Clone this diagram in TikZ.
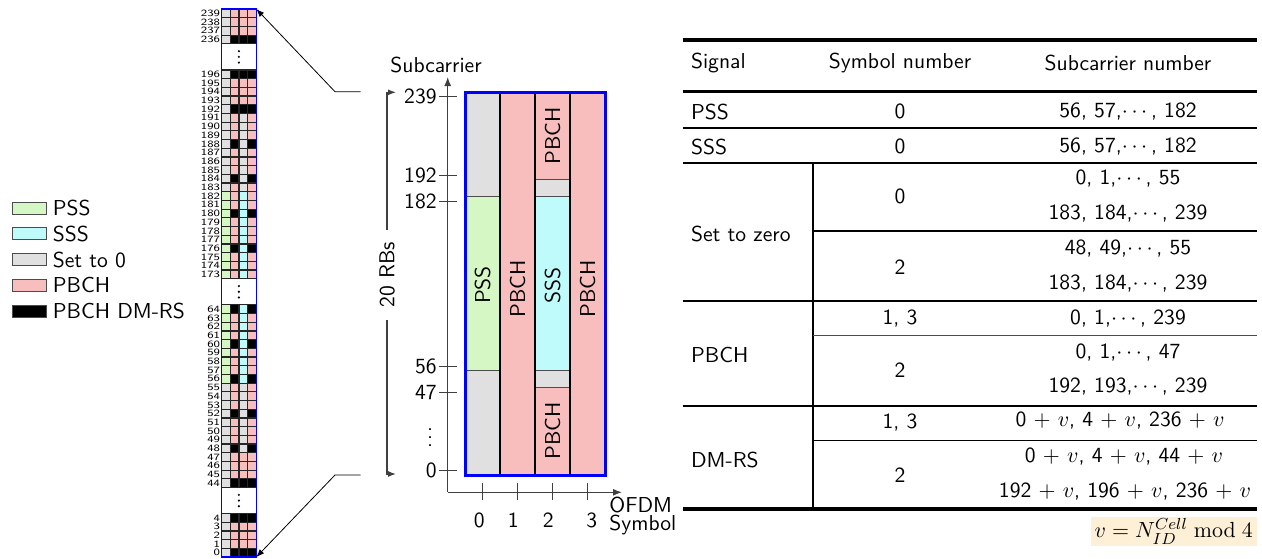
\documentclass[tikz,border=0pt]{standalone}
\usepackage{amsmath,amssymb}
\usepackage{xcolor}
\usepackage{graphicx}
\usepackage{tikz}
\usetikzlibrary{arrows.meta,positioning}
\renewcommand{\familydefault}{\sfdefault}
\definecolor{pss}{RGB}{212,247,196}
\definecolor{sss}{RGB}{192,251,251}
\definecolor{zero}{RGB}{224,224,224}
\definecolor{pbch}{RGB}{248,190,190}
\definecolor{dmrs}{RGB}{0,0,0}
\definecolor{note}{RGB}{253,240,214}
\newcommand\ssbcolors[1]{%
  \pgfmathtruncatemacro\ssbrem{mod(#1,4)}%
  \ifnum\ssbrem=0 \def\colB{dmrs}\else\def\colB{pbch}\fi
  \def\colA{zero}\let\colC\colB
  \ifnum#1>55 \ifnum#1<183 \def\colA{pss}\def\colC{sss}\fi\fi
  \ifnum#1>47 \ifnum#1<56 \def\colC{zero}\fi\fi
  \ifnum#1>182 \ifnum#1<192 \def\colC{zero}\fi\fi}

\begin{document}
\begin{tikzpicture}[x=0.5pt, y=-0.5pt, >={Latex[length=4pt,width=3pt]},
  every node/.style={font=\fontsize{10.8}{12}\selectfont},
  recell/.style={draw=black!85, line width=0.6pt},
  rowlabel/.style={anchor=east, inner sep=0.3pt, font=\fontsize{6}{5}\selectfont},
  band/.style={draw=black!70, line width=0.5pt},
  axis/.style={black!75, line width=0.6pt},
  legbox/.style={draw=black!70, minimum width=17pt, minimum height=6pt, inner sep=0pt},
  legtext/.style={inner sep=0pt, anchor=west}]
\useasboundingbox (0,0) rectangle (1262,558);

\node[legbox, fill=pss] (legpss) at (29,208) {};
\node[legbox, fill=sss, below=6.5pt of legpss] (legsss) {};
\node[legbox, fill=zero, below=6.5pt of legsss] (legzero) {};
\node[legbox, fill=pbch, below=6.5pt of legzero] (legpbch) {};
\node[legbox, fill=dmrs, below=6.5pt of legpbch] (legdmrs) {};
\node[legtext, right=3pt of legpss] (legpsst) {PSS};
\node[legtext, right=3pt of legsss] (legssst) {SSS};
\node[legtext, right=3pt of legzero] (legzerot) {Set to 0};
\node[legtext, right=3pt of legpbch] (legpbcht) {PBCH};
\node[legtext, right=3pt of legdmrs] (legdmrst) {PBCH DM-RS};

\foreach \kk/\first/\cnt in {0/239/4, 7/196/24, 34/64/21, 58/4/5}{
  \foreach \i in {1,...,\cnt}{
    \pgfmathtruncatemacro\n{\first-\i+1}
    \pgfmathsetmacro\yy{9+(\kk+\i-1)*8.7}
    \ssbcolors{\n}
    \filldraw[recell, fill=\colA] (221.5,\yy) rectangle ++(8.7,8.7);
    \filldraw[recell, fill=\colB] (230.2,\yy) rectangle ++(8.7,8.7);
    \filldraw[recell, fill=\colC] (238.9,\yy) rectangle ++(8.7,8.7);
    \filldraw[recell, fill=\colB] (247.6,\yy) rectangle ++(8.7,8.7);
    \node[rowlabel] (row\n) at (221,\yy+4.35) {\scalebox{1}[0.8]{\n}};
  }
}
\foreach \g in {56.85,291.75,500.55}
  \foreach \d in {-5.7,0,5.7}
    \fill (238.9,\g+\d) circle (1.2);
\draw[blue, line width=0.7pt] (221.5,9) rectangle (256.3,557.1);
\coordinate (stripne) at (256.3,9);
\coordinate (stripse) at (256.3,557.1);
\coordinate (zoomtop) at (360.7,91.7);
\coordinate (zoombot) at (360.7,475);
\draw[->] (zoomtop) -- (335,91.7) -- (stripne);
\draw[->] (zoombot) -- (335,475) -- (stripse);

\filldraw[band, fill=zero] (465,92.3) rectangle (500,196.7);
\filldraw[band, fill=pss] (465,196.7) rectangle (500,370.7);
\filldraw[band, fill=zero] (465,370.7) rectangle (500,475);
\filldraw[band, fill=pbch] (500,92.3) rectangle (535,475);
\filldraw[band, fill=pbch] (535,92.3) rectangle (570,179.3);
\filldraw[band, fill=zero] (535,179.3) rectangle (570,196.7);
\filldraw[band, fill=sss] (535,196.7) rectangle (570,370.7);
\filldraw[band, fill=zero] (535,370.7) rectangle (570,387.7);
\filldraw[band, fill=pbch] (535,387.7) rectangle (570,475);
\filldraw[band, fill=pbch] (570,92.3) rectangle (605,475);
\foreach \x in {500,535,570}
  \draw[line width=1pt] (\x,92.3) -- (\x,475);
\draw[blue, line width=1.5pt] (465,92.3) rectangle (605,475);
\node[rotate=90] (pssband) at (482.5,285) {PSS};
\node[rotate=90] (pbchone) at (517.5,289) {PBCH};
\node[rotate=90] (pbchtwotop) at (552.5,135.7) {PBCH};
\node[rotate=90] (sssband) at (552.5,285) {SSS};
\node[rotate=90] (pbchtwobot) at (552.5,431) {PBCH};
\node[rotate=90] (pbchthree) at (587.5,289) {PBCH};

\coordinate (origin) at (447.7,492.3);
\coordinate (ytip) at (447.7,77);
\coordinate (xtip) at (622,492.3);
\draw[axis, -{Latex[length=4.5pt,width=3.5pt]}] (origin) -- (ytip);
\draw[axis, -{Latex[length=4.5pt,width=3.5pt]}] (origin) -- (xtip);
\foreach \v/\y in {239/96.7, 192/175.7, 182/201.7, 56/366.7, 47/392.7, 0/470.7}{
  \draw[axis] (439,\y) -- (457,\y);
  \node[anchor=east, inner sep=1pt] (ytick\v) at (439,\y) {\v};
}
\node (ydots) at (430,431.7) {$\vdots$};
\foreach \x in {482.5,517.5,552.5,587.5}
  \draw[axis] (\x,483.3) -- (\x,500);
\foreach \s/\x in {0/479.3,1/513.3,2/548.3,3/591.7}
  \node (xtick\s) at (\x,520) {\s};
\node (sclabel) at (436,65) {Subcarrier};
\node[align=left, anchor=west, inner sep=0pt, font=\fontsize{10.8}{9.4}\selectfont] (ofdmlabel) at (609,516) {OFDM\\Symbol};
\node[rotate=90, inner sep=6pt] (rbs) at (387,275) {20 RBs};
\draw[axis, ->] (rbs.east) |- (396,92.3);
\draw[axis, ->] (rbs.west) |- (396,474);

\draw[line width=2pt] (682.7,40) -- (1256.7,40);
\draw[line width=1.6pt] (682.7,91.7) -- (1256.7,91.7);
\foreach \y in {127.7,162.7,300.7,406}
  \draw[line width=1pt] (682.7,\y) -- (1256.7,\y);
\draw[line width=2pt] (682.7,509.3) -- (1256.7,509.3);
\draw[line width=0.9pt] (813.3,162.7) -- (813.3,509.3);
\draw[line width=0.9pt] (813.3,231) -- (1256.7,231);
\draw[line width=0.6pt, black!70] (813.3,335.7) -- (1256.7,335.7);
\draw[line width=0.6pt] (813.3,440.7) -- (1256.7,440.7);

\node[anchor=west] (hsig) at (684,63.3) {Signal};
\node (hsym) at (900,63.3) {Symbol number};
\node (hsub) at (1128,63.3) {Subcarrier number};
\node[anchor=west] (spss) at (684,111.7) {PSS};
\node (npss) at (900,111.7) {0};
\node (cpss) at (1128,111.7) {56, 57,$\cdots$, 182};
\node[anchor=west] (ssss) at (684,146.7) {SSS};
\node (nsss) at (900,146.7) {0};
\node (csss) at (1128,146.7) {56, 57,$\cdots$, 182};
\node[anchor=west] (szero) at (684,234) {Set to zero};
\node (nzeroa) at (900,196.7) {0};
\node (czeroa) at (1128,178.3) {0, 1,$\cdots$, 55};
\node (czerob) at (1128,213.3) {183, 184,$\cdots$, 239};
\node (nzerob) at (900,267) {2};
\node (czeroc) at (1128,248.3) {48, 49,$\cdots$, 55};
\node (czerod) at (1128,283.3) {183, 184,$\cdots$, 239};
\node[anchor=west] (spbch) at (684,355) {PBCH};
\node (npbcha) at (900,318.3) {1, 3};
\node (cpbcha) at (1128,318.3) {0, 1,$\cdots$, 239};
\node (npbchb) at (900,370.5) {2};
\node (cpbchb) at (1128,353) {0, 1,$\cdots$, 47};
\node (cpbchc) at (1128,386.7) {192, 193,$\cdots$, 239};
\node[anchor=west] (sdmrs) at (684,460) {DM-RS};
\node (ndmrsa) at (900,422.7) {1, 3};
\node (cdmrsa) at (1120,420.5) {0 $+$ $v$, 4 $+$ $v$, 236 $+$ $v$};
\node (ndmrsb) at (900,475) {2};
\node (cdmrsb) at (1124,456.7) {0 $+$ $v$, 4 $+$ $v$, 44 $+$ $v$};
\node (cdmrsc) at (1125,491.7) {192 $+$ $v$, 196 $+$ $v$, 236 $+$ $v$};
\node[fill=note, minimum width=83pt, minimum height=13.5pt, inner sep=1pt] (vdef) at (1173.7,531.5) {$v = N_{ID}^{Cell} \bmod 4$};
\end{tikzpicture}
\end{document}
